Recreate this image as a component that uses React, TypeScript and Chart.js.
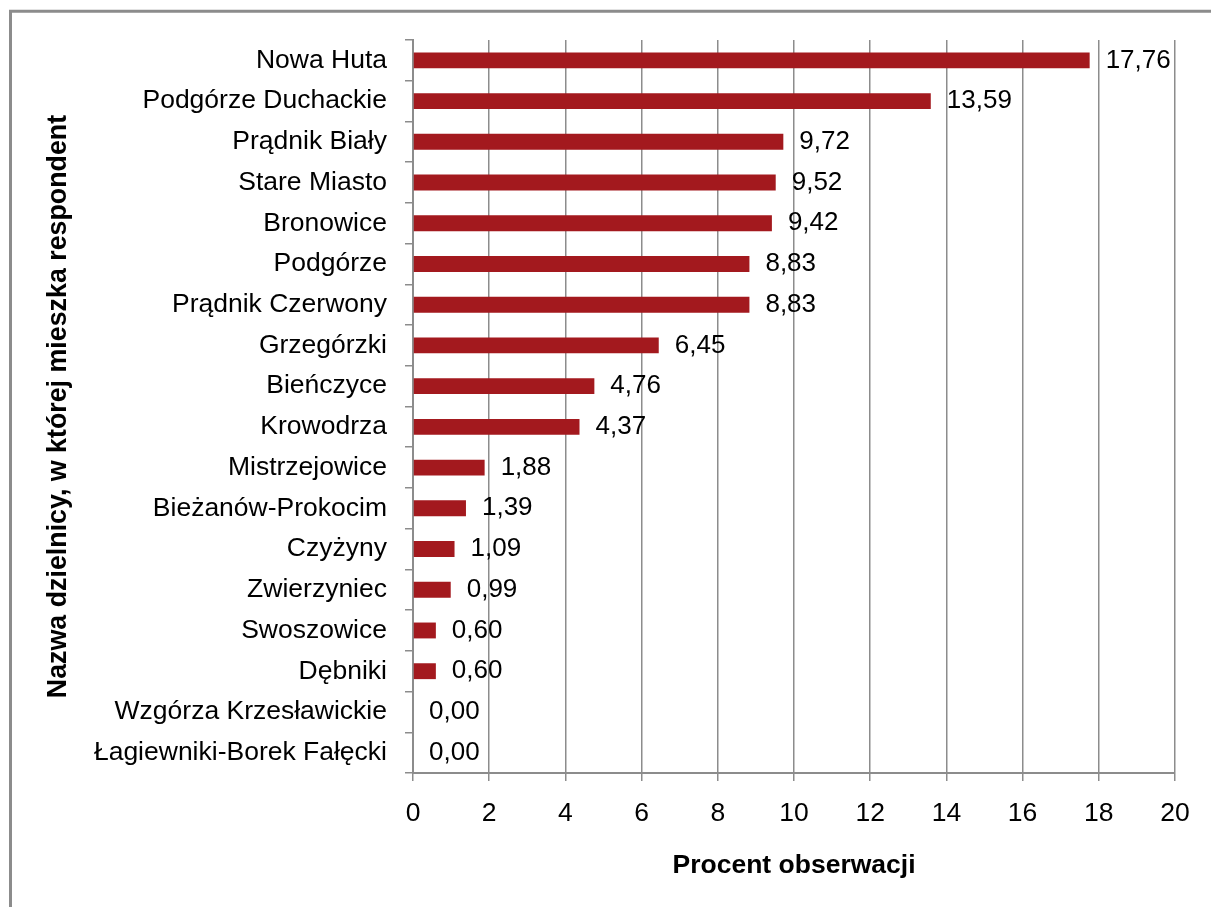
import React, { useEffect, useRef } from "react";
import { Chart, registerables } from "chart.js";

Chart.register(...registerables);

const categories: string[] = [
  "Nowa Huta",
  "Podgórze Duchackie",
  "Prądnik Biały",
  "Stare Miasto",
  "Bronowice",
  "Podgórze",
  "Prądnik Czerwony",
  "Grzegórzki",
  "Bieńczyce",
  "Krowodrza",
  "Mistrzejowice",
  "Bieżanów-Prokocim",
  "Czyżyny",
  "Zwierzyniec",
  "Swoszowice",
  "Dębniki",
  "Wzgórza Krzesławickie",
  "Łagiewniki-Borek Fałęcki",
];

const values: number[] = [
  17.76, 13.59, 9.72, 9.52, 9.42, 8.83, 8.83, 6.45, 4.76, 4.37, 1.88, 1.39, 1.09,
  0.99, 0.6, 0.6, 0.0, 0.0,
];

const xTicks: number[] = [0, 2, 4, 6, 8, 10, 12, 14, 16, 18, 20];

const xTitle = "Procent obserwacji";
const yTitle = "Nazwa dzielnicy, w której mieszka respondent";

const FONT = "'Liberation Sans', Arial, Helvetica, sans-serif";
const GRAY = "#8c8c8c";
const BAR = "#A3191E";

const frame = {
  id: "frame",
  beforeDraw(chart: any) {
    const ctx = chart.ctx;
    ctx.save();
    ctx.fillStyle = "#ffffff";
    ctx.fillRect(0, 0, chart.width, chart.height);
    ctx.strokeStyle = GRAY;
    ctx.lineWidth = 3;
    ctx.beginPath();
    ctx.moveTo(10.5, chart.height + 5);
    ctx.lineTo(10.5, 11.3);
    ctx.lineTo(chart.width + 5, 11.3);
    ctx.stroke();
    ctx.restore();
  },
};

const valueLabels = {
  id: "valueLabels",
  afterDatasetsDraw(chart: any) {
    const ctx = chart.ctx;
    const meta = chart.getDatasetMeta(0);
    ctx.save();
    ctx.font = `26px ${FONT}`;
    ctx.fillStyle = "#000000";
    ctx.textAlign = "left";
    ctx.textBaseline = "middle";
    meta.data.forEach((el: any, i: number) => {
      const v = values[i];
      ctx.fillText(v.toFixed(2).replace(".", ","), el.x + 16, el.y);
    });
    ctx.restore();
  },
};

export default function App() {
  const ref = useRef<HTMLCanvasElement | null>(null);

  useEffect(() => {
    if (!ref.current) return;
    const chart = new Chart(ref.current, {
      type: "bar",
      data: {
        labels: categories,
        datasets: [
          {
            data: values,
            backgroundColor: BAR,
            borderWidth: 0,
            categoryPercentage: 1,
            barPercentage: 0.39,
          },
        ],
      },
      options: {
        indexAxis: "y",
        responsive: false,
        animation: false,
        layout: { padding: { top: 40, right: 36, bottom: 0, left: 0 } },
        plugins: {
          legend: { display: false },
          tooltip: { enabled: false },
        },
        scales: {
          x: {
            type: "linear",
            min: 0,
            max: 20,
            afterBuildTicks: (scale: any) => {
              scale.ticks = xTicks.map((v) => ({ value: v }));
            },
            afterFit: (scale: any) => {
              scale.height = 134;
            },
            grid: {
              color: GRAY,
              lineWidth: 1.5,
              tickLength: 8,
              drawTicks: true,
            },
            border: { color: GRAY, width: 2 },
            ticks: {
              color: "#000000",
              padding: 17,
              font: { family: FONT, size: 26.5 },
              maxRotation: 0,
              callback: (v: any) => String(v),
            },
            title: {
              display: true,
              text: xTitle,
              color: "#000000",
              font: { family: FONT, size: 26.5, weight: "bold" },
              padding: { top: 0, bottom: 25 },
            },
          },
          y: {
            type: "category",
            afterFit: (scale: any) => {
              scale.width = 413;
            },
            grid: {
              display: true,
              drawOnChartArea: false,
              color: GRAY,
              lineWidth: 1.5,
              tickLength: 8,
              offset: true,
            },
            border: { color: GRAY, width: 2 },
            ticks: {
              color: "#000000",
              padding: 18,
              autoSkip: false,
              font: { family: FONT, size: 26.5 },
            },
            title: {
              display: true,
              text: yTitle,
              color: "#000000",
              font: { family: FONT, size: 26.8, weight: "bold" },
              padding: { top: 43, bottom: 0 },
            },
          },
        },
      },
      plugins: [frame, valueLabels],
    });
    return () => chart.destroy();
  }, []);

  return (
    <div style={{ position: "absolute", left: 0, top: 0, width: 1211, height: 907, overflow: "hidden" }}>
      <canvas ref={ref} width={1211} height={907} style={{ display: "block" }} />
    </div>
  );
}
